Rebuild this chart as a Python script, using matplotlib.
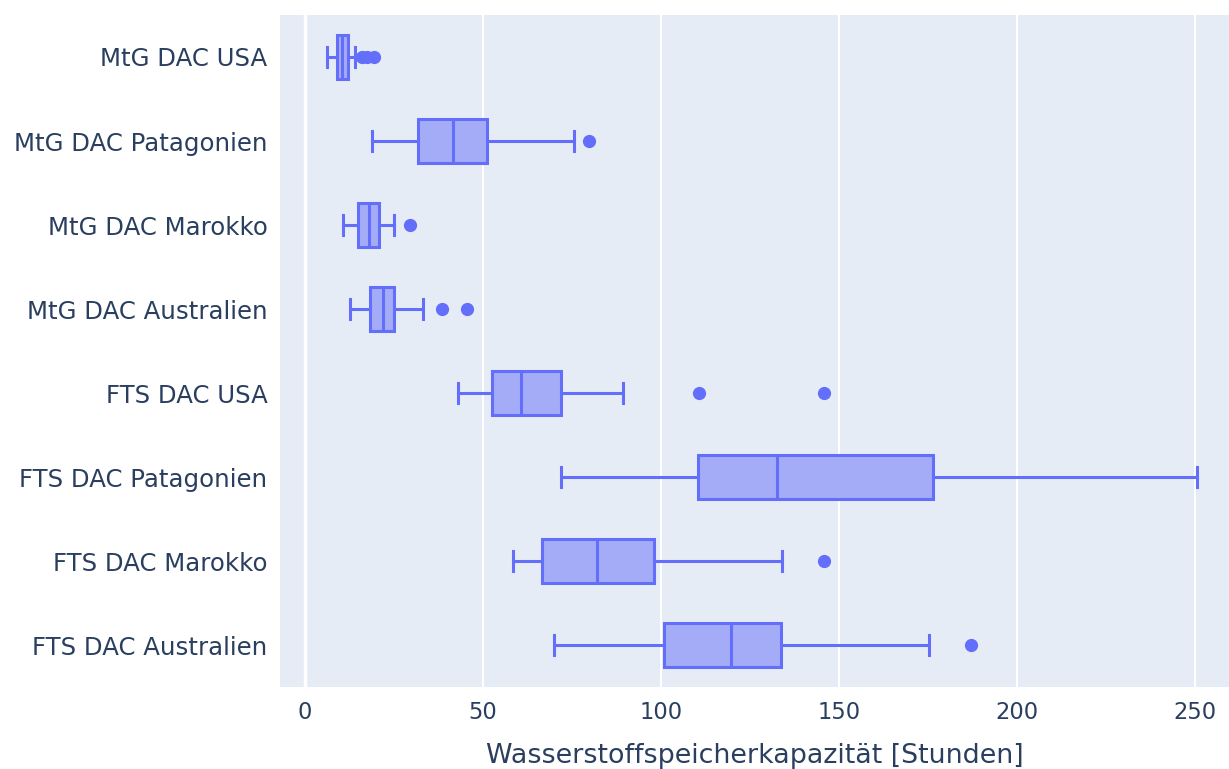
import matplotlib
matplotlib.use("Agg")
import matplotlib.pyplot as plt

# Categories, top to bottom
labels = ["MtG DAC USA", "MtG DAC Patagonien", "MtG DAC Marokko",
          "MtG DAC Australien", "FTS DAC USA", "FTS DAC Patagonien",
          "FTS DAC Marokko", "FTS DAC Australien"]

# Box statistics (hours)
whis_lo = [6.2, 18.8, 10.7, 12.6, 43.0, 71.8, 58.4, 70.0]
q1 = [9.0, 31.7, 14.9, 18.3, 52.5, 110.4, 66.5, 100.8]
med = [10.4, 41.6, 18.0, 22.0, 60.7, 132.6, 82.0, 119.7]
q3 = [12.0, 51.1, 20.8, 25.0, 72.0, 176.4, 98.0, 133.7]
whis_hi = [14.0, 75.6, 25.0, 33.1, 89.3, 250.6, 134.0, 175.3]
outliers = [[16.0, 17.5, 19.5], [79.8], [29.5], [38.5, 45.5],
            [110.7, 145.8], [], [145.8], [187.0]]

line_c = "#636efa"
fill_c = "#a4acf8"
text_c = "#2a3f5f"

stats = []
for i in range(len(labels)):
    stats.append(dict(label=labels[i], whislo=whis_lo[i], q1=q1[i],
                      med=med[i], q3=q3[i], whishi=whis_hi[i],
                      fliers=outliers[i]))

fig = plt.figure(figsize=(12.29, 7.69), dpi=100)
ax = fig.add_axes([0.2278, 0.1066, 0.7722, 0.8739])
ax.set_facecolor("#e5ecf6")

pos = list(range(len(labels)))
ax.bxp(stats, positions=pos, vert=False, widths=0.52, patch_artist=True,
       capwidths=0.23,
       boxprops=dict(facecolor=fill_c, edgecolor=line_c, linewidth=2.2),
       medianprops=dict(color=line_c, linewidth=2.2),
       whiskerprops=dict(color=line_c, linewidth=2.2),
       capprops=dict(color=line_c, linewidth=2.2),
       flierprops=dict(marker="o", markerfacecolor=line_c,
                       markeredgecolor=line_c, markersize=8.5))

ax.set_xlim(-7, 259.5)
ax.set_ylim(7.5, -0.5)
ax.set_xticks([0, 50, 100, 150, 200, 250])
ax.set_yticks(pos)
ax.set_yticklabels(labels)
ax.grid(axis="x", color="white", linewidth=1.4)
ax.axvline(0, color="white", linewidth=2.5, zorder=0.5)
ax.set_axisbelow(True)
for s in ax.spines.values():
    s.set_visible(False)
ax.tick_params(axis="y", length=0, colors=text_c, labelsize=17.6, pad=9)
ax.tick_params(axis="x", length=0, colors=text_c, labelsize=16.3, pad=10)
for t in ax.get_xticklabels() + ax.get_yticklabels():
    t.set_family("DejaVu Sans")
ax.set_xlabel("Wasserstoffspeicherkapazität [Stunden]", fontsize=19.4,
              color=text_c, family="DejaVu Sans", labelpad=14)

fig.savefig("out.png", dpi=100, facecolor="white")
